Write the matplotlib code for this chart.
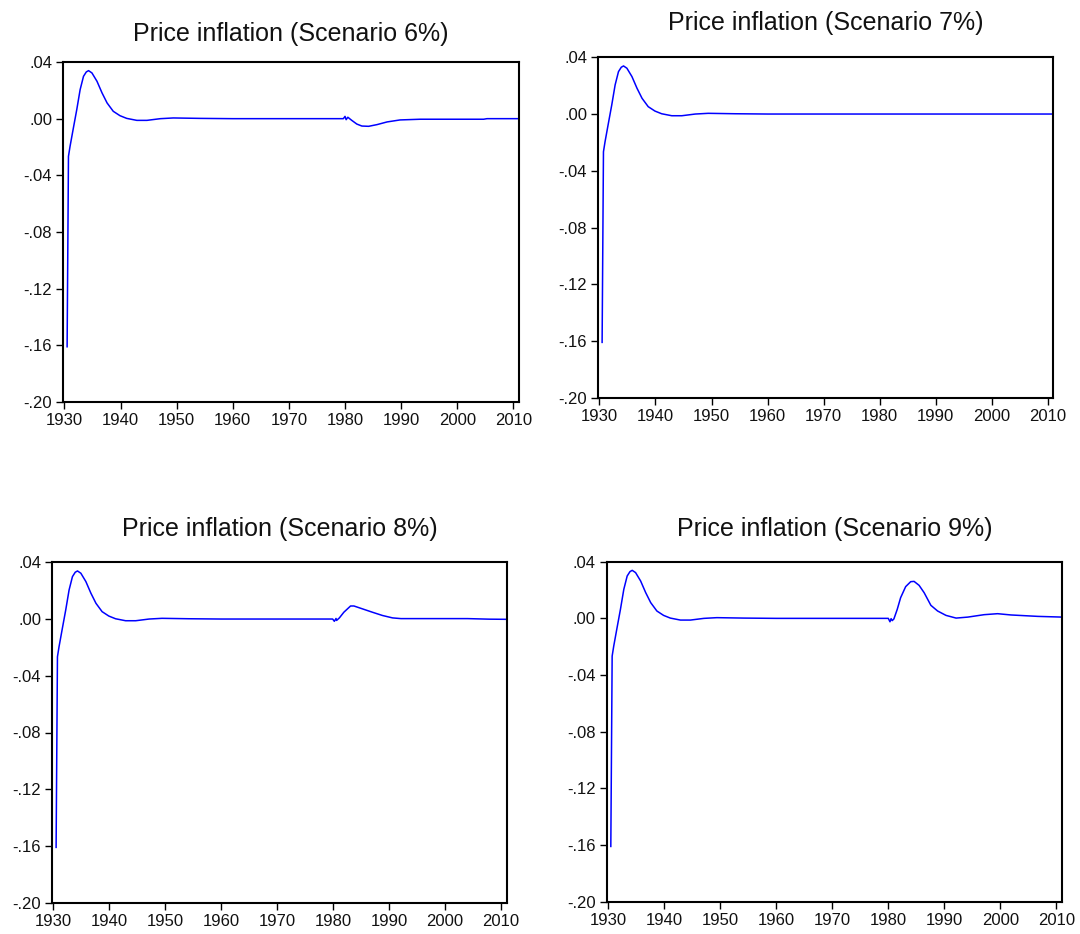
import matplotlib
matplotlib.use("Agg")
import matplotlib.pyplot as plt
from matplotlib.ticker import FixedLocator, FuncFormatter

# Simulated price inflation paths (shared start, scenario-specific after 1980)
years_common = [1930.48, 1930.72, 1931.0, 1931.6, 1932.2, 1932.8, 1933.4, 1933.9,
                1934.3, 1934.9, 1935.8, 1936.7, 1937.6, 1938.7, 1939.9, 1941.1,
                1942.9, 1944.7, 1947.1, 1949.4, 1954.2, 1960.0, 1970.0, 1979.7]
infl_common = [-0.161, -0.0266, -0.0196, -0.0065, 0.0064, 0.0205, 0.0299, 0.0330,
               0.0339, 0.0323, 0.0264, 0.0182, 0.0111, 0.0052, 0.0021, 0.0002,
               -0.0012, -0.0012, 0.0000, 0.0005, 0.0002, 0.0, 0.0, 0.0]

years_6 = [1980.0, 1980.2, 1980.5, 1981.2, 1982.1, 1983.0, 1984.2, 1985.7,
           1987.5, 1989.8, 1993.4, 2004.7, 2005.3, 2011.0]
infl_6 = [0.0016, -0.0007, 0.0010, -0.0012, -0.0038, -0.0052, -0.0054, -0.0042,
          -0.0023, -0.0009, -0.0004, -0.0004, 0.0, 0.0]

years_7 = [1990.0, 2000.0, 2011.0]
infl_7 = [0.0, 0.0, 0.0]

years_8 = [1979.9, 1980.2, 1980.5, 1980.6, 1981.1, 1981.9, 1983.1, 1983.7,
           1985.2, 1987.0, 1988.8, 1990.6, 1992.1, 2004.0, 2007.9, 2011.0]
infl_8 = [0.0, -0.0016, 0.0004, -0.0010, 0.0008, 0.0048, 0.0092, 0.0092,
          0.0072, 0.0048, 0.0025, 0.0008, 0.0003, 0.0003, -0.0001, -0.0002]

years_9 = [1980.0, 1980.3, 1980.5, 1980.7, 1981.0, 1981.6, 1982.2, 1983.1,
           1984.0, 1984.6, 1985.5, 1986.4, 1987.6, 1988.8, 1990.3, 1992.1,
           1994.2, 1997.1, 1999.5, 2001.9, 2006.7, 2011.0]
infl_9 = [0.0, -0.0024, -0.0002, -0.0016, -0.0004, 0.0064, 0.0146, 0.0224,
          0.0259, 0.0261, 0.0233, 0.0181, 0.0092, 0.0052, 0.0021, 0.0002,
          0.0009, 0.0026, 0.0033, 0.0024, 0.0014, 0.0009]

scenarios = ["6%", "7%", "8%", "9%"]
tails = [(years_6, infl_6), (years_7, infl_7), (years_8, infl_8), (years_9, infl_9)]

x_ticks = [1930, 1940, 1950, 1960, 1970, 1980, 1990, 2000, 2010]
y_ticks = [-0.20, -0.16, -0.12, -0.08, -0.04, 0.00, 0.04]

plt.rcParams['font.family'] = ['Liberation Sans', 'DejaVu Sans']

W, H = 1080, 934
fig = plt.figure(figsize=(W / 100, H / 100), dpi=100, facecolor='white')

# axes boxes in pixels: left, right, top, bottom
boxes = [(63.3, 519.0, 62.0, 402.0),
         (598.3, 1053.0, 57.3, 397.7),
         (52.3, 506.7, 562.3, 902.7),
         (607.0, 1062.0, 561.7, 901.7)]
title_pads = [14.8, 19.3, 18.7, 18.5]
x_right = [2011.0, 2010.9, 2011.0, 2011.0]


def fmt_y(v, pos):
    s = f"{v:.2f}"
    if s.startswith("-0"):
        s = "-" + s[2:]
    elif s.startswith("0"):
        s = s[1:]
    if s == "-.00":
        s = ".00"
    return s


for i, (name, (ty, tv)) in enumerate(zip(scenarios, tails)):
    l, r, t, b = boxes[i]
    ax = fig.add_axes([l / W, 1 - b / H, (r - l) / W, (b - t) / H])
    xs = years_common + ty
    ys = infl_common + tv
    ax.plot(xs, ys, color='#0000ff', lw=1.1)
    ax.set_xlim(1929.8, x_right[i])
    ax.set_ylim(-0.20, 0.04)
    ax.xaxis.set_major_locator(FixedLocator(x_ticks))
    ax.yaxis.set_major_locator(FixedLocator(y_ticks))
    ax.yaxis.set_major_formatter(FuncFormatter(fmt_y))
    ax.tick_params(axis='both', direction='out', length=5, width=1.0,
                   labelsize=12, pad=3, color='black', labelcolor='#111111')
    for sp in ax.spines.values():
        sp.set_linewidth(1.5)
        sp.set_color('black')
    ax.set_title(f"Price inflation (Scenario {name})", fontsize=18,
                 pad=title_pads[i], color='#111111')

fig.savefig("out.png", dpi=100, facecolor='white')
